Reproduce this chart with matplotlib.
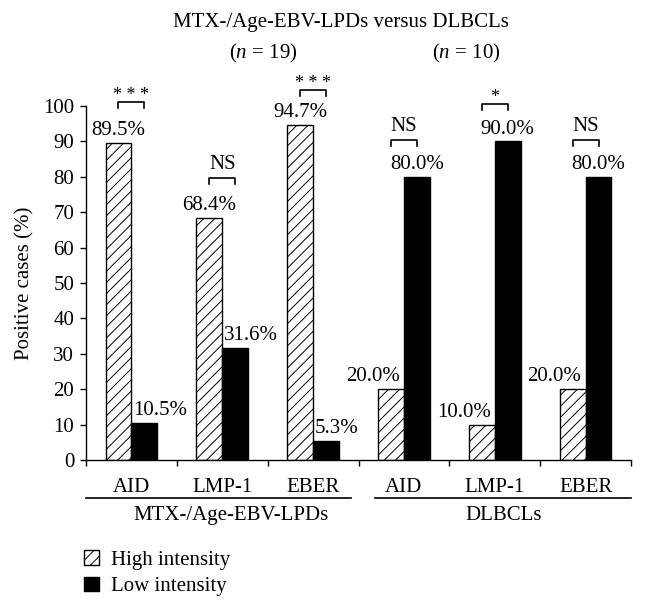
import matplotlib.pyplot as plt
import numpy as np
from matplotlib.patches import Patch

plt.rcParams['font.family'] = ['Liberation Serif', 'DejaVu Serif']
plt.rcParams['mathtext.fontset'] = 'custom'
plt.rcParams['mathtext.rm'] = 'Liberation Serif'
plt.rcParams['mathtext.it'] = 'Liberation Serif:italic'
plt.rcParams['hatch.linewidth'] = 0.7

# data
markers = ["AID", "LMP-1", "EBER", "AID", "LMP-1", "EBER"]
groups = ["MTX-/Age-EBV-LPDs", "DLBCLs"]
high = [89.5, 68.4, 94.7, 20.0, 10.0, 20.0]
low = [10.5, 31.6, 5.3, 80.0, 90.0, 80.0]
signif = ["* * *", "NS", "* * *", "NS", "*", "NS"]
bracket_top = [101.2, 79.7, 104.5, 90.4, 100.6, 90.4]

fs = 15
fig = plt.figure(figsize=(6.46, 6.13), dpi=100)
ax = fig.add_axes([86 / 646, 1 - 460 / 613, 545 / 646, 354 / 613])

x = np.arange(len(markers))
w = 0.285
ax.bar(x - w / 2, high, w, color="white", edgecolor="black", hatch="///", linewidth=1)
ax.bar(x + w / 2, low, w, color="black", edgecolor="black", linewidth=1)

# value labels
for i in range(len(x)):
    if high[i] > low[i]:
        ax.annotate("%.1f%%" % high[i], (x[i] - w / 2, high[i]), xytext=(0, 2),
                    textcoords="offset points", ha="center", va="bottom", fontsize=fs)
        ax.annotate("%.1f%%" % low[i], (x[i], low[i]), xytext=(1, 2),
                    textcoords="offset points", ha="left", va="bottom", fontsize=fs)
    else:
        ax.annotate("%.1f%%" % high[i], (x[i], high[i]), xytext=(-3, 2),
                    textcoords="offset points", ha="right", va="bottom", fontsize=fs)
        ax.annotate("%.1f%%" % low[i], (x[i] + w / 2, low[i]), xytext=(0, 2),
                    textcoords="offset points", ha="center", va="bottom", fontsize=fs)

# significance brackets
for i in range(len(x)):
    t = bracket_top[i]
    ax.plot([x[i] - w / 2, x[i] - w / 2, x[i] + w / 2, x[i] + w / 2],
            [t - 1.7, t, t, t - 1.7], color="black", lw=1.2, clip_on=False)
    if "*" in signif[i]:
        ax.annotate(signif[i], (x[i], t), xytext=(0, 4.5), textcoords="offset points",
                    ha="center", va="center", fontsize=13, annotation_clip=False)
    else:
        ax.annotate(signif[i], (x[i], t), xytext=(0, 9.5), textcoords="offset points",
                    ha="center", va="center", fontsize=fs, annotation_clip=False)

ax.set_xlim(-0.5, 5.5)
ax.set_ylim(0, 100)
ax.set_yticks(range(0, 101, 10))
ax.tick_params(axis="y", labelsize=fs, length=4.5, width=1, pad=4)
ax.set_xticks(x)
ax.set_xticklabels(markers, fontsize=fs)
ax.set_xticks(np.arange(-0.5, 6, 1), minor=True)
ax.tick_params(axis="x", which="major", length=0, pad=13)
ax.tick_params(axis="x", which="minor", length=4, width=1)
for s in ["top", "right"]:
    ax.spines[s].set_visible(False)
ax.spines["left"].set_linewidth(1)
ax.spines["bottom"].set_linewidth(1)

# group underlines and names
trans = ax.get_xaxis_transform()
ax.plot([-0.5, 2.42], [-0.107, -0.107], color="black", lw=1.2, transform=trans, clip_on=False)
ax.plot([2.68, 5.5], [-0.107, -0.107], color="black", lw=1.2, transform=trans, clip_on=False)
ax.text(1.1, -0.158, groups[0], transform=trans, ha="center", va="center", fontsize=fs)
ax.text(4.1, -0.158, groups[1], transform=trans, ha="center", va="center", fontsize=fs)

fig.text(25 / 646, 1 - 283 / 613, "Positive cases (%)", rotation=90,
         ha="center", va="center", fontsize=fs)
fig.text(341 / 646, 1 - 23 / 613, "MTX-/Age-EBV-LPDs versus DLBCLs",
         ha="center", va="center", fontsize=fs)
fig.text(263 / 646, 1 - 53 / 613, "($\\mathit{n}$ = 19)", ha="center", va="center", fontsize=fs)
fig.text(466 / 646, 1 - 53 / 613, "($\\mathit{n}$ = 10)", ha="center", va="center", fontsize=fs)

handles = [Patch(facecolor="white", edgecolor="black", hatch="///", label="High intensity"),
           Patch(facecolor="black", edgecolor="black", label="Low intensity")]
fig.legend(handles=handles, loc="upper left", bbox_to_anchor=(84 / 646, 1 - 550 / 613),
           frameon=False, fontsize=fs, handlelength=0.7, handleheight=0.7,
           handletextpad=0.6, labelspacing=0.35, borderpad=0, borderaxespad=0)

fig.savefig("out.png", dpi=100)
